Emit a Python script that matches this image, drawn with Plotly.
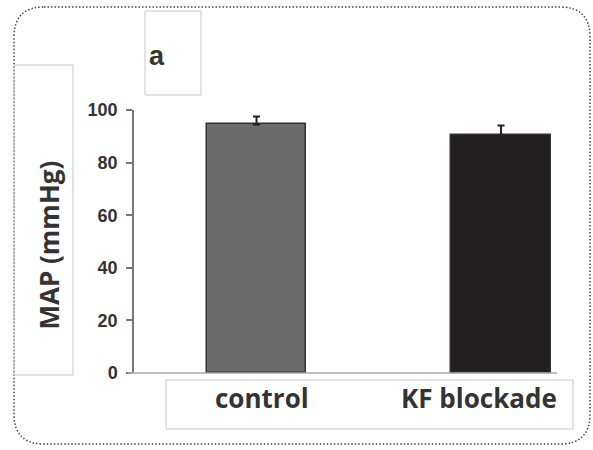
import plotly.graph_objects as go

categories = ["control", "KF blockade"]
map_values = [94.5, 90.5]
map_errors = [3.0, 3.6]
bar_colors = ["#6b6b6b", "#231f20"]
y_ticks = [0, 20, 40, 60, 80, 100]
panel_label = "a"
y_title = "MAP (mmHg)"

W, H = 593, 450
L, R, T, B = 134, 557, 110, 373  # plot area in pixels

def px(x):
    return (x - L) / (R - L)

def py(y):
    return (B - y) / (B - T)

fig = go.Figure()
fig.add_trace(go.Bar(
    x=categories, y=map_values, width=0.405,
    marker=dict(color=bar_colors, line=dict(color="#333333", width=1.5)),
    error_y=dict(type="data", array=map_errors, arrayminus=[0, 0], symmetric=False,
                 color="#222222", thickness=2, width=3.5),
    showlegend=False,
))

shapes = []
# dotted rounded outer border
x0, y0, x1, y1, r = 14, 7, 590, 444, 30
def P(x, y):
    return f"{px(x):.5f},{py(y):.5f}"
path = (f"M {P(x0 + r, y0)} L {P(x1 - r, y0)} Q {P(x1, y0)} {P(x1, y0 + r)} "
        f"L {P(x1, y1 - r)} Q {P(x1, y1)} {P(x1 - r, y1)} "
        f"L {P(x0 + r, y1)} Q {P(x0, y1)} {P(x0, y1 - r)} "
        f"L {P(x0, y0 + r)} Q {P(x0, y0)} {P(x0 + r, y0)} Z")
shapes.append(dict(type="path", path=path, xref="paper", yref="paper",
                   line=dict(color="#444444", width=1.5, dash="1.5px,2px")))
# text boxes
for (a, b, c, d) in [(145, 11, 201, 95), (14, 65, 73, 375), (166, 380, 573, 429)]:
    shapes.append(dict(type="rect", xref="paper", yref="paper",
                       x0=px(a), x1=px(c), y0=py(d), y1=py(b),
                       line=dict(color="#c8c8c8", width=1), fillcolor="rgba(0,0,0,0)"))
# x axis baseline
shapes.append(dict(type="line", xref="paper", yref="paper", x0=px(128), x1=px(557),
                   y0=0, y1=0, line=dict(color="#aaaaaa", width=1.5)))

annotations = [
    dict(text=panel_label, xref="paper", yref="paper", x=px(156.5), y=py(56),
         showarrow=False,
         font=dict(family="Liberation Sans", size=27, color="#333333", weight="bold"),
         xanchor="center", yanchor="middle"),
    dict(text=y_title, xref="paper", yref="paper", x=px(48.5), y=py(245), textangle=-90,
         showarrow=False, font=dict(family="Open Sans", size=26, color="#333333", weight="bold"),
         xanchor="center", yanchor="middle"),
]
label_shifts = [5, -22.5]
for cat, sh in zip(categories, label_shifts):
    annotations.append(dict(text=cat, xref="x", yref="paper", x=cat, y=py(398), xshift=sh,
                            showarrow=False,
                            font=dict(family="Open Sans", size=26, color="#333333", weight="bold"),
                            xanchor="center", yanchor="middle"))

fig.update_layout(
    width=W, height=H, margin=dict(l=L, r=W - R, t=T, b=H - B),
    paper_bgcolor="white", plot_bgcolor="white",
    xaxis=dict(type="category", range=[-0.501, 1.229], showticklabels=False,
               showline=False, showgrid=False, zeroline=False, ticks=""),
    yaxis=dict(range=[0, 100], tickvals=y_ticks, showline=True, linecolor="#777777",
               linewidth=1.5, ticks="outside", ticklen=6, tickcolor="#777777",
               tickwidth=1.5, showgrid=False, zeroline=False, ticklabelstandoff=5,
               tickfont=dict(family="Liberation Sans", size=18, color="#333333", weight="bold")),
    shapes=shapes, annotations=annotations, bargap=0,
)

fig.write_html("out.html")
